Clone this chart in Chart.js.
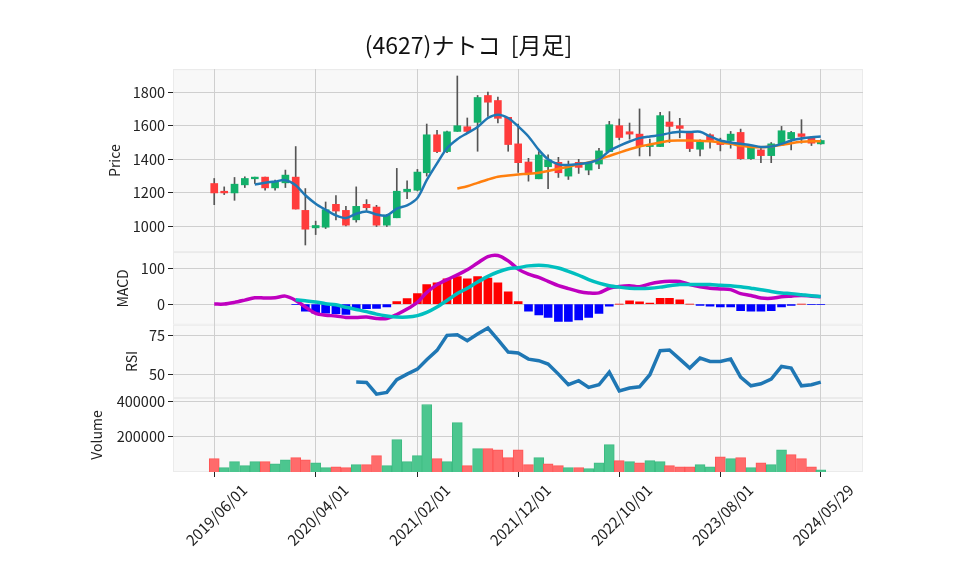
<!DOCTYPE html>
<html lang="ja">
<head>
<meta charset="utf-8">
<title>(4627)ナトコ [月足]</title>
<script src="https://cdn.jsdelivr.net/npm/chart.js@4.4.1/dist/chart.umd.min.js"></script>
<style>
  html, body { margin: 0; padding: 0; background: #ffffff; }
  #wrap { width: 958px; height: 575px; }
</style>
</head>
<body>
<div id="wrap"><canvas id="kabuka"></canvas></div>
<script>
// 月足データ 2019/06 - 2024/05/29
const dates = [
  "2019-06-01", "2019-07-01", "2019-08-01", "2019-09-01", "2019-10-01", "2019-11-01", "2019-12-01",
  "2020-01-01", "2020-02-01", "2020-03-01", "2020-04-01", "2020-05-01", "2020-06-01",
  "2020-07-01", "2020-08-01", "2020-09-01", "2020-10-01", "2020-11-01", "2020-12-01",
  "2021-01-01", "2021-02-01", "2021-03-01", "2021-04-01", "2021-05-01", "2021-06-01",
  "2021-07-01", "2021-08-01", "2021-09-01", "2021-10-01", "2021-11-01", "2021-12-01",
  "2022-01-01", "2022-02-01", "2022-03-01", "2022-04-01", "2022-05-01", "2022-06-01",
  "2022-07-01", "2022-08-01", "2022-09-01", "2022-10-01", "2022-11-01", "2022-12-01",
  "2023-01-01", "2023-02-01", "2023-03-01", "2023-04-01", "2023-05-01", "2023-06-01",
  "2023-07-01", "2023-08-01", "2023-09-01", "2023-10-01", "2023-11-01", "2023-12-01",
  "2024-01-01", "2024-02-01", "2024-03-01", "2024-04-01", "2024-05-01", "2024-05-29"
];

const opens = [
  1256, 1210, 1200, 1248, 1284, 1294, 1230, 1260, 1294, 1096,
  992, 996, 1132, 1096, 1040, 1132, 1116, 1008, 1052, 1208,
  1216, 1320, 1546, 1446, 1566, 1594, 1620, 1780, 1750, 1650,
  1492, 1384, 1284, 1356, 1382, 1300, 1382, 1336, 1372, 1446,
  1600, 1564, 1550, 1476, 1476, 1622, 1600, 1556, 1460, 1546,
  1512, 1512, 1560, 1404, 1456, 1422, 1492, 1522, 1552, 1526,
  1492
];
const highs = [
  1286, 1236, 1292, 1296, 1294, 1294, 1276, 1336, 1476, 1226,
  1032, 1146, 1184, 1120, 1236, 1160, 1126, 1072, 1346, 1272,
  1340, 1610, 1572, 1568, 1896, 1646, 1780, 1800, 1770, 1650,
  1610, 1406, 1446, 1426, 1412, 1390, 1400, 1384, 1466, 1626,
  1640, 1616, 1700, 1520, 1680, 1684, 1644, 1566, 1516, 1552,
  1526, 1566, 1580, 1476, 1466, 1500, 1596, 1566, 1636, 1536,
  1516
];
const lows = [
  1130, 1190, 1156, 1232, 1256, 1216, 1216, 1232, 1104, 890,
  952, 988, 1040, 1004, 1026, 1096, 1000, 1000, 1052, 1166,
  1212, 1300, 1440, 1440, 1566, 1556, 1448, 1656, 1616, 1448,
  1322, 1270, 1284, 1226, 1292, 1280, 1316, 1308, 1344, 1446,
  1516, 1520, 1420, 1420, 1476, 1500, 1528, 1446, 1420, 1466,
  1450, 1466, 1400, 1400, 1380, 1380, 1492, 1456, 1496, 1482,
  1490
];
const closes = [
  1200, 1200, 1252, 1286, 1294, 1230, 1266, 1306, 1104, 984,
  1006, 1100, 1092, 1008, 1120, 1112, 1008, 1068, 1210, 1222,
  1324, 1546, 1446, 1564, 1600, 1566, 1768, 1740, 1644, 1488,
  1380, 1316, 1426, 1396, 1320, 1356, 1352, 1380, 1450, 1606,
  1530, 1550, 1476, 1488, 1660, 1596, 1584, 1464, 1506, 1512,
  1488, 1550, 1404, 1472, 1422, 1492, 1570, 1560, 1536, 1496,
  1512
];
const volumes = [
  76000, 24500, 59000, 36000, 59000, 59000, 47000, 70000, 82000, 70000,
  53000, 24500, 30000, 24500, 42000, 42000, 93000, 36000, 185000, 59000,
  93000, 385000, 76000, 59000, 282000, 36000, 133000, 133000, 127000, 82000,
  127000, 42000, 82000, 47000, 36000, 24500, 24500, 19000, 53000, 156000,
  65000, 59000, 53000, 65000, 59000, 36000, 30000, 30000, 42000, 30000,
  87000, 76000, 82000, 24500, 53000, 42000, 127000, 99000, 76000, 30000,
  13000
];

// 移動平均 (5, 25)
const ma5 = [
  null, null, null, null, 1250, 1260, 1268, 1276, 1246, 1186,
  1136, 1100, 1066, 1050, 1076, 1090, 1072, 1066, 1106, 1126,
  1170, 1276, 1376, 1466, 1520, 1556, 1592, 1646, 1666, 1646,
  1596, 1536, 1456, 1400, 1370, 1366, 1372, 1380, 1400, 1450,
  1480, 1506, 1526, 1536, 1544, 1556, 1564, 1562, 1564, 1536,
  1512, 1500, 1492, 1484, 1474, 1476, 1492, 1512, 1524, 1532,
  1536
];
const ma25 = [
  null, null, null, null, null, null, null, null, null, null,
  null, null, null, null, null, null, null, null, null, null,
  null, null, null, null, 1226, 1240, 1260, 1280, 1296, 1304,
  1310, 1314, 1320, 1330, 1344, 1356, 1370, 1382, 1400, 1420,
  1440, 1460, 1476, 1488, 1500, 1510, 1512, 1512, 1510, 1508,
  1500, 1492, 1480, 1474, 1472, 1476, 1486, 1496, 1504, 1508,
  1508
];

// MACD
const macd = [
  0, 0, 4.6, 11, 17.6, 16.7, 17.6, 22, 10, -8,
  -26, -31, -33, -37, -37, -36, -40, -40, -29, -14,
  5, 32, 54, 68, 81, 95, 114, 132, 135, 120,
  97, 83, 74, 63, 51, 43, 35, 31, 31, 44,
  49, 51, 48, 56, 61, 63, 63, 54, 48, 44,
  42, 40, 29, 24, 17, 16, 20, 22, 24, 22,
  20
];
const signal = [
  null, null, null, null, null, null, null, null, 12, 9,
  6, 1, -2, -9, -15, -21, -28, -33, -36, -36,
  -32, -23, -8, 10, 29, 44, 61, 77, 89, 98,
  101, 106, 108, 106, 100, 91, 80, 68, 58, 51,
  47, 44, 43, 44, 47, 51, 54, 54, 54, 54,
  52, 51, 48, 44, 40, 35, 31, 29, 26, 23,
  21
];
const hist = [
  null, null, null, null, null, null, null, null, -2, -20,
  -25, -25, -27, -29, -14, -13, -12, -8, 7, 15,
  29, 54, 59, 70, 76, 70, 76, 72, 59, 34,
  7, -20, -30, -37, -48, -48, -44, -37, -26, -6,
  0, 9, 6, 3, 16, 16, 12, 0, -4, -6,
  -8, -8, -18, -20, -20, -18, -8, -4, 0, -2,
  -2
];

// RSI
const rsi = [
  null, null, null, null, null, null, null, null, null, null,
  null, null, null, null, 45.3, 45.1, 37.6, 38.7, 46.8, 50.4,
  53.6, 59.6, 65.6, 75.2, 75.6, 71.8, 76.1, 79.9, 72.4, 64.5,
  63.9, 60, 59, 56.8, 50.4, 43.6, 46.2, 41.9, 43.6, 51.7,
  39.7, 41.5, 42.3, 50, 65.4, 65.8, 60, 54.3, 60.7, 58.5,
  58.5, 60, 48.5, 42.9, 44.2, 47.2, 55.3, 54.3, 42.9, 43.6,
  45.3
];

// 目盛り
const xTickDates = ["2019-06-01", "2020-04-01", "2021-02-01", "2021-12-01", "2022-10-01", "2023-08-01", "2024-05-29"];
const priceTicks = [1000, 1200, 1400, 1600, 1800];
const macdTicks = [0, 100];
const rsiTicks = [50, 75];
const volumeTicks = [200000, 400000];

// 日付 -> 2019/06/01 からの日数
const startUTC = Date.UTC(2019, 5, 1);
function toDay(s) {
  const p = s.split("-");
  return (Date.UTC(+p[0], +p[1] - 1, +p[2]) - startUTC) / 86400000;
}
const days = dates.map(toDay);
const xTickLabels = xTickDates.map(d => d.replace(/-/g, "/"));

const points = arr => arr.map((v, i) => ({ x: days[i], y: v }));
const notNull = arr => points(arr).filter(p => p.y !== null);

const UP = "#12b06a", DOWN = "#ff3c3c";
const candleColors = closes.map((c, i) => c >= opens[i] ? UP : DOWN);
// 出来高の色は前月終値との比較
const volUp = closes.map((c, i) => i === 0 ? c >= opens[0] : c >= closes[i - 1]);
const volColors = volUp.map(u => u ? "#4cc68f" : "#ff6b6b");
const volEdges = volUp.map(u => u ? "#3dbb82" : "#ff5555");
const histPoints = notNull(hist);
const histColors = histPoints.map(p => p.y >= 0 ? "#ff0000" : "#0000ff");

// パネルの背景
const panelBg = {
  id: "panelBg",
  beforeDraw(chart) {
    const { ctx, chartArea } = chart;
    ["yPrice", "yMacd", "yRsi", "yVol"].forEach(id => {
      const s = chart.scales[id];
      ctx.save();
      ctx.fillStyle = "#f8f8f8";
      ctx.fillRect(chartArea.left, s.top, chartArea.right - chartArea.left, s.bottom - s.top);
      ctx.strokeStyle = "#ebebeb";
      ctx.lineWidth = 1;
      ctx.strokeRect(chartArea.left + 0.5, s.top + 0.5, chartArea.right - chartArea.left - 1, s.bottom - s.top - 1);
      ctx.restore();
    });
  }
};

function yScale(min, max, weight, tickValues, title, titlePad) {
  return {
    type: "linear",
    position: "left",
    stack: "panels",
    stackWeight: weight,
    min: min,
    max: max,
    afterFit: s => { s.width = 99; },
    afterBuildTicks: s => { s.ticks = tickValues.map(v => ({ value: v })); },
    ticks: {
      callback: v => String(v),
      padding: 3,
      color: "#222",
      font: { size: 14.5 }
    },
    grid: { color: "#cfcfcf", tickColor: "#222", tickLength: 5 },
    border: { display: false },
    title: {
      display: true,
      text: title,
      color: "#222",
      font: { size: 14 },
      padding: { top: titlePad, bottom: 0 }
    }
  };
}

Chart.defaults.font.family = "'Noto Sans CJK JP', 'Noto Sans', sans-serif";
Chart.defaults.color = "#222";

new Chart(document.getElementById("kabuka"), {
  type: "bar",
  data: {
    datasets: [
      {
        type: "line", label: "MA5", data: points(ma5), yAxisID: "yPrice",
        borderColor: "#1f77b4", borderWidth: 2.5, pointRadius: 0, tension: 0.3, order: 1
      },
      {
        type: "line", label: "MA25", data: points(ma25), yAxisID: "yPrice",
        borderColor: "#ff7f0e", borderWidth: 2.5, pointRadius: 0, tension: 0.3, order: 1
      },
      {
        label: "body", yAxisID: "yPrice", grouped: false, order: 2,
        data: days.map((d, i) => ({ x: d, y: [opens[i], closes[i]] })),
        backgroundColor: candleColors, barThickness: 7
      },
      {
        label: "wick", yAxisID: "yPrice", grouped: false, order: 3,
        data: days.map((d, i) => ({ x: d, y: [lows[i], highs[i]] })),
        backgroundColor: "#555555", barThickness: 1
      },
      {
        type: "line", label: "Signal", data: points(signal), yAxisID: "yMacd",
        borderColor: "#00bfbf", borderWidth: 3.5, pointRadius: 0, tension: 0.3, order: 0
      },
      {
        type: "line", label: "MACD", data: points(macd), yAxisID: "yMacd",
        borderColor: "#bf00bf", borderWidth: 3.5, pointRadius: 0, tension: 0.3, order: 1
      },
      {
        label: "Hist", yAxisID: "yMacd", grouped: false, order: 2,
        data: histPoints, backgroundColor: histColors, barThickness: 8
      },
      {
        type: "line", label: "RSI", data: points(rsi), yAxisID: "yRsi",
        borderColor: "#1f77b4", borderWidth: 3.5, pointRadius: 0, tension: 0, order: 1
      },
      {
        label: "Volume", yAxisID: "yVol", grouped: false, order: 2,
        data: points(volumes), backgroundColor: volColors,
        borderColor: volEdges, borderWidth: 1, barThickness: 10
      }
    ]
  },
  options: {
    responsive: true,
    maintainAspectRatio: false,
    animation: false,
    events: [],
    layout: { padding: { left: 74, right: 95, top: 0, bottom: 0 } },
    plugins: {
      legend: { display: false },
      tooltip: { enabled: false },
      title: {
        display: true,
        text: "(4627)ナトコ  [月足]",
        color: "#111",
        font: { size: 23, weight: "normal" },
        padding: { top: 31, bottom: 10.5 }
      }
    },
    scales: {
      x: {
        type: "linear",
        min: -124,
        max: 1951,
        offset: false,
        afterFit: s => { s.height = 103; },
        afterBuildTicks: s => { s.ticks = xTickDates.map(d => ({ value: toDay(d) })); },
        ticks: {
          callback: (v, i) => xTickLabels[i],
          autoSkip: false,
          minRotation: 45,
          maxRotation: 45,
          labelOffset: 30,
          padding: 4,
          color: "#222",
          font: { size: 15 }
        },
        grid: { color: "#cfcfcf", tickColor: "#222", tickLength: 5, offset: false },
        border: { display: false }
      },
      yVol: yScale(0, 422000, 74, volumeTicks, "Volume", 14),
      yRsi: yScale(35.1, 82, 73.3, rsiTicks, "RSI", 49),
      yMacd: yScale(-57.4, 144.4, 72.7, macdTicks, "MACD", 40),
      yPrice: yScale(848, 1937, 183, priceTicks, "Price", 32)
    }
  },
  plugins: [panelBg]
});
</script>
</body>
</html>
